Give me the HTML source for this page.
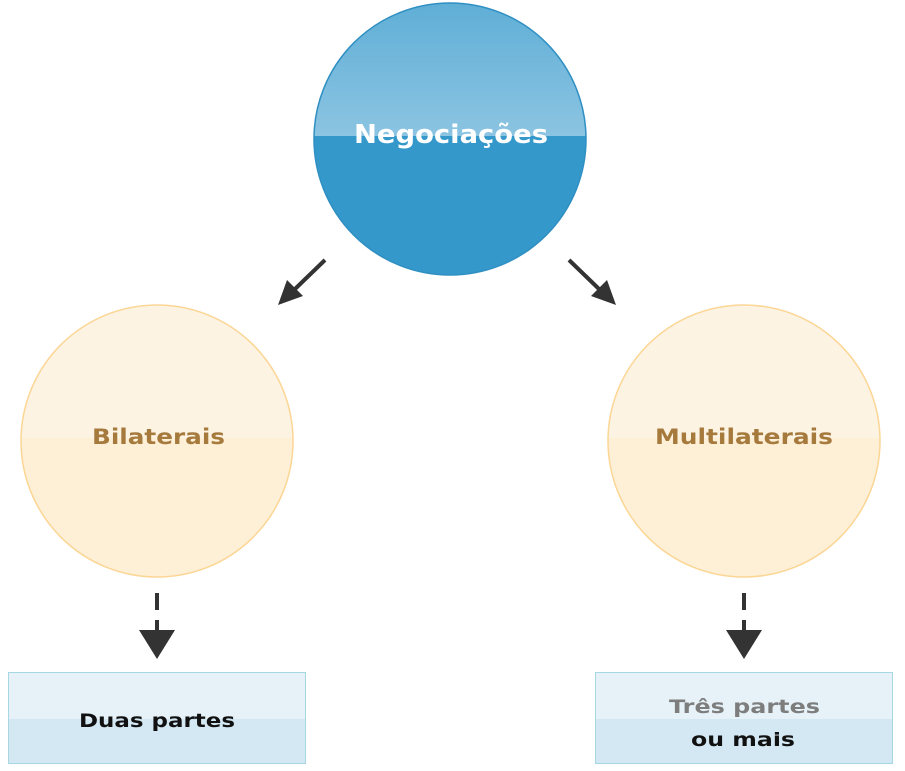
<!DOCTYPE html>
<html><head><style>body{margin:0;background:#fff}svg{display:block}text{font-family:"DejaVu Sans","Liberation Sans",sans-serif;font-weight:bold}</style></head>
<body>
<svg width="905" height="771" xmlns="http://www.w3.org/2000/svg">
<defs>
<clipPath id="c1"><circle cx="450" cy="139" r="136"/></clipPath>
<clipPath id="c2"><circle cx="157" cy="441" r="136"/></clipPath>
<clipPath id="c3"><circle cx="744" cy="441" r="136"/></clipPath>
<linearGradient id="gb" x1="0" y1="0" x2="0" y2="1"><stop offset="0" stop-color="#5eaed6"/><stop offset="1" stop-color="#8cc4e2"/></linearGradient>
</defs>
<circle cx="450" cy="139" r="136" fill="#3498cb"/>
<rect x="300" y="0" width="300" height="136" fill="url(#gb)" clip-path="url(#c1)"/>
<circle cx="450" cy="139" r="136" fill="none" stroke="#2f8fc2" stroke-width="1.5"/>
<text x="354" y="143" fill="#fff" font-size="26" textLength="194" lengthAdjust="spacingAndGlyphs">Negociações</text>

<circle cx="157" cy="441" r="136" fill="#feefd7"/>
<rect x="0" y="300" width="320" height="138" fill="#fdf3e3" clip-path="url(#c2)"/>
<circle cx="157" cy="441" r="136" fill="none" stroke="#fbd695" stroke-width="1.5"/>
<text x="92" y="444" fill="#a57a3c" font-size="21" textLength="133" lengthAdjust="spacingAndGlyphs">Bilaterais</text>

<circle cx="744" cy="441" r="136" fill="#feefd7"/>
<rect x="600" y="300" width="300" height="138" fill="#fdf3e3" clip-path="url(#c3)"/>
<circle cx="744" cy="441" r="136" fill="none" stroke="#fbd695" stroke-width="1.5"/>
<text x="655" y="444" fill="#a57a3c" font-size="21" textLength="178" lengthAdjust="spacingAndGlyphs">Multilaterais</text>

<g stroke="#333" stroke-width="4" fill="none">
<line x1="325" y1="260" x2="295" y2="289"/>
<line x1="569" y1="260" x2="599" y2="289"/>
<line x1="157" y1="593" x2="157" y2="610"/><line x1="157" y1="620" x2="157" y2="632"/>
<line x1="744" y1="593" x2="744" y2="610"/><line x1="744" y1="620" x2="744" y2="632"/>
</g>
<g fill="#333">
<polygon points="278,305 287,280 303,296"/>
<polygon points="616,305 591,296 607,280"/>
<polygon points="139,630 175,630 157,659"/>
<polygon points="726,630 762,630 744,659"/>
</g>

<rect x="8.5" y="672.5" width="297" height="91" fill="#d4e8f3" stroke="#a6d8e4"/>
<rect x="9" y="673" width="296" height="46" fill="#e6f2f8"/>
<text x="79" y="727" fill="#111" font-size="19" textLength="156" lengthAdjust="spacingAndGlyphs">Duas partes</text>

<rect x="595.5" y="672.5" width="297" height="91" fill="#d4e8f3" stroke="#a6d8e4"/>
<rect x="596" y="673" width="296" height="46" fill="#e6f2f8"/>
<text x="669" y="713" fill="#7d7d7d" font-size="19" textLength="151" lengthAdjust="spacingAndGlyphs">Três partes</text>
<text x="691" y="746" fill="#111" font-size="19" textLength="104" lengthAdjust="spacingAndGlyphs">ou mais</text>
</svg>
</body></html>
